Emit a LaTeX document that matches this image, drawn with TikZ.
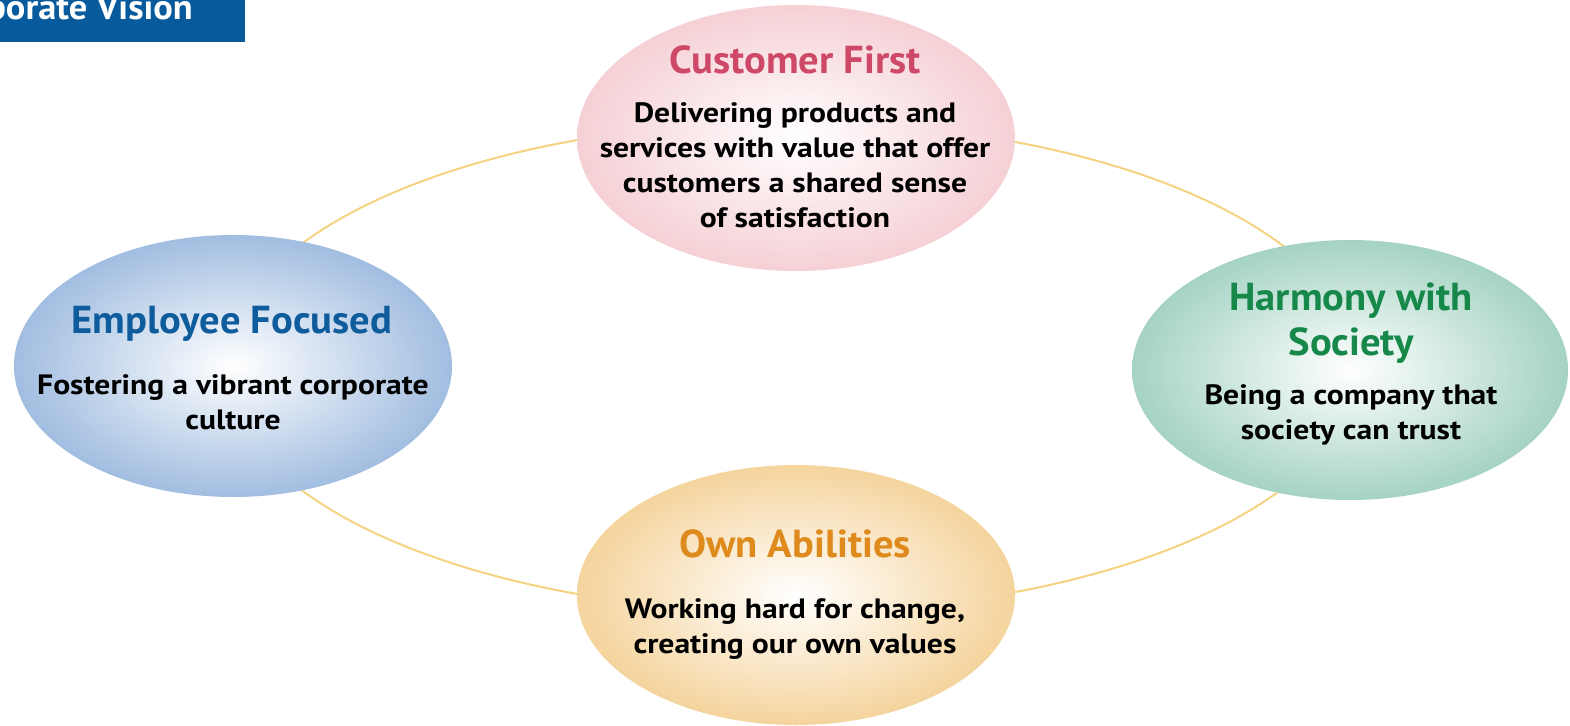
\documentclass[tikz,border=0pt]{standalone}
\usepackage{fontspec}
\setmainfont{PT Sans}
\newfontfamily\headfont{PT Sans}[FakeStretch=1.04]
\newfontfamily\bodyfont{PT Sans}[FakeStretch=1.13]
\usetikzlibrary{shapes.geometric}

\definecolor{pinkfill}{HTML}{F5D0D5}
\definecolor{pinktitle}{HTML}{CE4867}
\definecolor{bluefill}{HTML}{A1BDE0}
\definecolor{bluetitle}{HTML}{0F5C9D}
\definecolor{greenfill}{HTML}{A5D3C3}
\definecolor{greentitle}{HTML}{16884A}
\definecolor{orangefill}{HTML}{F5D49D}
\definecolor{orangetitle}{HTML}{DE8A1C}
\definecolor{ringcol}{HTML}{F6D383}
\definecolor{visionblue}{HTML}{075A9C}

\begin{document}
\begin{tikzpicture}[x=1pt,y=-1pt,
  vision/.style={ellipse, draw=none, inner sep=0pt, minimum width=438pt, minimum height=262pt, inner color=white},
  ring/.style={draw=ringcol, line width=2pt},
  headline/.style={font=\headfont\bfseries\fontsize{39}{45}\selectfont, align=center, inner sep=0pt, anchor=north},
  body/.style={font=\bodyfont\bfseries\fontsize{28}{35}\selectfont, align=center, text=black, inner sep=0pt, anchor=north},
]
\useasboundingbox (0,0) rectangle (1570,725);
\clip (0,0) rectangle (1570,725);

% ring linking the four values
\coordinate (hub) at (791,367);
\draw[ring] (hub) ellipse [x radius=566, y radius=245];

% the four value ellipses
\node[vision, outer color=pinkfill, minimum height=266pt] (customer) at (796,138) {};
\node[vision, outer color=bluefill] (employee) at (233,366) {};
\node[vision, outer color=greenfill, minimum width=436pt, minimum height=260pt] (society) at (1350,370) {};
\node[vision, outer color=orangefill, minimum height=260pt] (abilities) at (796,595) {};

% texts
\node[headline, text=pinktitle] (customerhead) at (795,45) {Customer First};
\node[body] (customerbody) at (795,102) {Delivering products and\\services with value that offer\\customers a shared sense\\of satisfaction};

\node[headline, text=bluetitle] (employeehead) at (232,306) {Employee Focused};
\node[body] (employeebody) at (233,374) {Fostering a vibrant corporate\\culture};

\node[headline, text=greentitle] (societyhead) at (1351,283) {Harmony with\\Society};
\node[body] (societybody) at (1351,384) {Being a company that\\society can trust};

\node[headline, text=orangetitle] (abilitieshead) at (795,529) {Own Abilities};
\node[body] (abilitiesbody) at (795,598) {Working hard for change,\\creating our own values};

% heading banner
\node[anchor=north west, fill=visionblue, inner sep=0pt, minimum width=245pt, minimum height=42pt] (banner) at (0,0) {};
\node[anchor=base east, inner sep=0pt, text=white, font=\headfont\bfseries\fontsize{35}{38}\selectfont] (bannertext) at (193,20) {Corporate Vision};
\end{tikzpicture}
\end{document}
